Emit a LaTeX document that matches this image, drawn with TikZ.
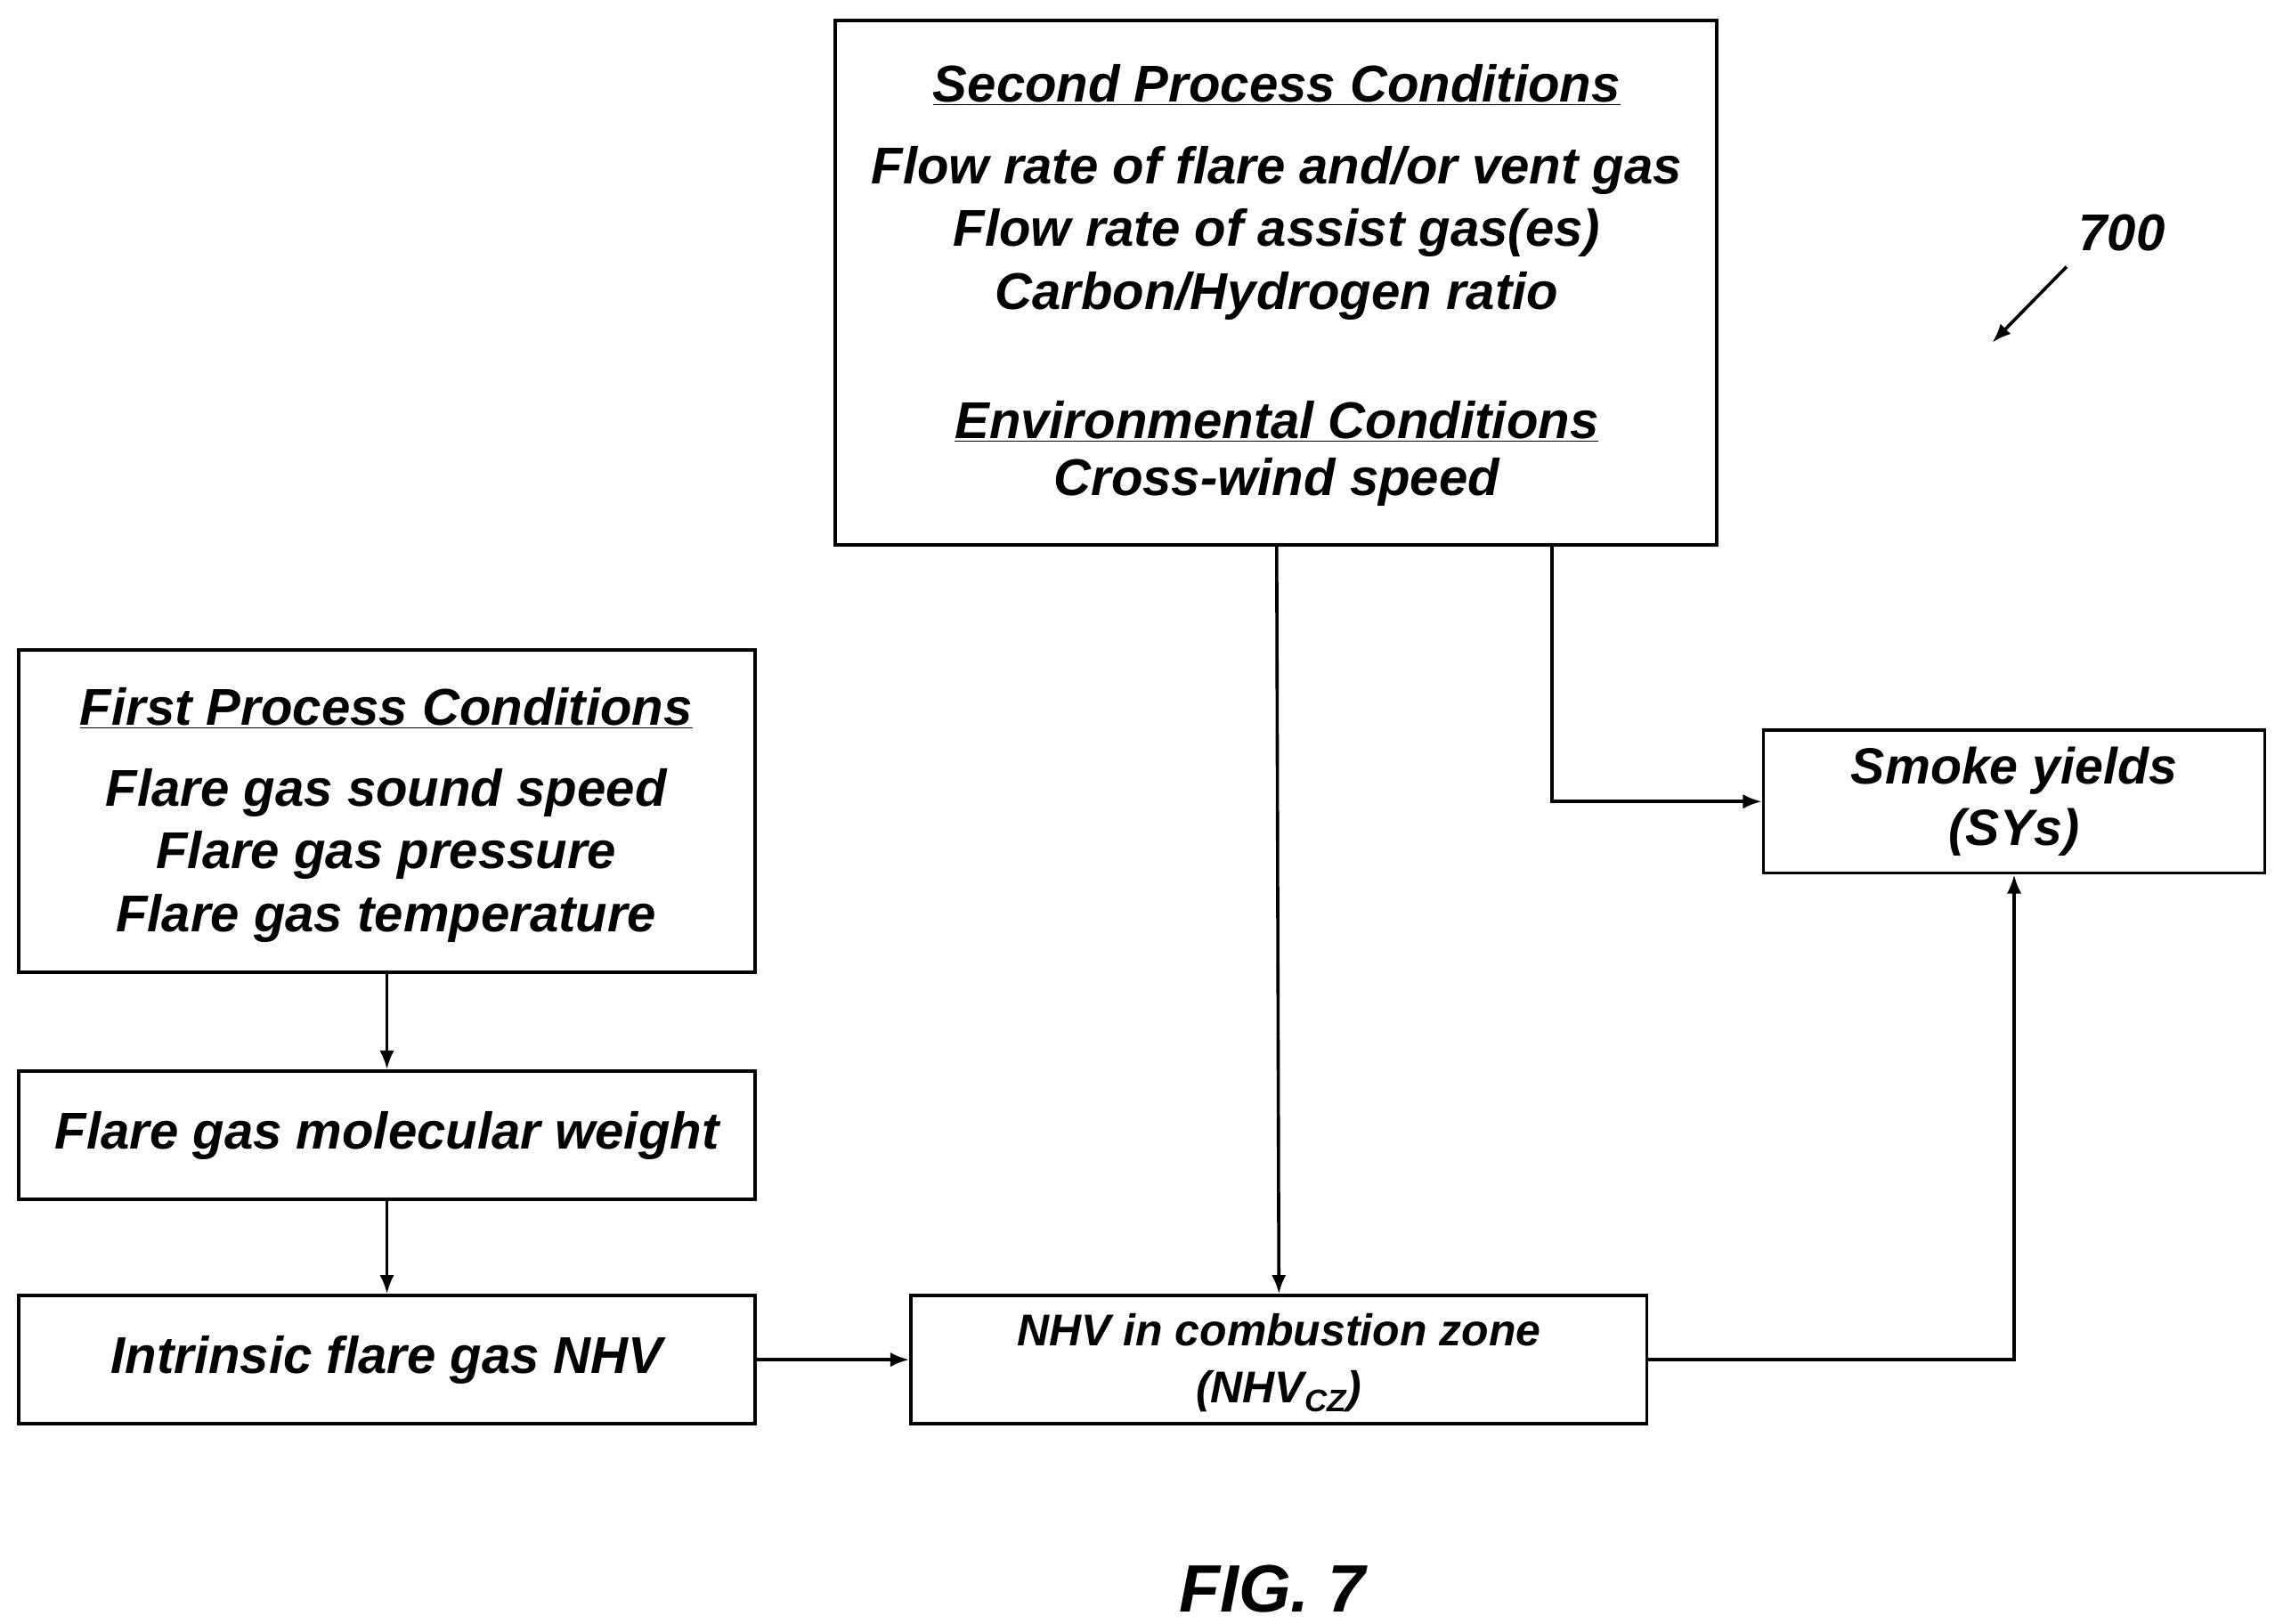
\documentclass[tikz,border=0pt]{standalone}
\usepackage{fontspec}
\setmainfont{Liberation Sans}
\usetikzlibrary{arrows.meta}
\begin{document}
\begin{tikzpicture}[x=1pt,y=-1pt,
 box/.style={draw,line width=2.2pt},
 txt/.style={font=\fontsize{35.5}{43}\selectfont\bfseries\itshape,align=center},
 arr/.style={line width=2.2pt,-{Latex[length=13pt,width=10pt]}}]
\useasboundingbox (0,0) rectangle (1561,1114);
\draw[box] (573,14) rectangle (1178,374);
\node[coordinate] (s) at (876,374) {};
\node[coordinate] (s2) at (1065,374) {};
\node[txt] (st1) at (876,58) {\underline{Second Process Conditions}};
\node[txt] (st2) at (876,160) {Flow rate of flare and/or vent gas\\Flow rate of assist gas(es)\\Carbon/Hydrogen ratio};
\node[txt] (st3) at (876,289) {\underline{Environmental Conditions}};
\node[txt] (st4) at (876,331) {Cross-wind speed};
\node[txt] (lab) at (1456,160) {700};
\coordinate (la) at (1418,183); \coordinate (lb) at (1367,235);
\draw[arr] (la) -- (lb);
\node[box,minimum width=505,minimum height=221,inner sep=0] (first) at (265.5,556.5) {};
\node[txt] (ft1) at (265,486) {\underline{First Process Conditions}};
\node[txt] (ft2) at (265,587) {Flare gas sound speed\\Flare gas pressure\\Flare gas temperature};
\node[box,txt,minimum width=505,minimum height=88,inner sep=0] (mw) at (265.5,779) {Flare gas molecular weight};
\node[box,txt,minimum width=505,minimum height=88,inner sep=0] (in) at (265.5,933) {Intrinsic flare gas NHV};
\node[box,minimum width=505,minimum height=88,inner sep=0] (nhv) at (877.5,933) {};
\node[txt,font=\fontsize{30.5}{39}\selectfont\bfseries\itshape] (nt) at (877.5,935) {NHV in combustion zone\\(NHV\textsubscript{CZ})};
\node[box,txt,minimum width=344,minimum height=98,inner sep=0,font=\fontsize{35}{42}\selectfont\bfseries\itshape] (sy) at (1382,550) {Smoke yields\\(SYs)};
\node[txt,font=\fontsize{46}{50}\selectfont\bfseries\itshape] (fig) at (873,1090) {FIG. 7};
\draw[arr] (first.south) -- (mw.north);
\draw[arr] (mw.south) -- (in.north);
\draw[arr] (in.east) -- (nhv.west);
\draw[arr] (s) -- (nhv.north);
\draw[arr] (s2) |- (sy.west);
\draw[arr] (nhv.east) -| (sy.south);
\end{tikzpicture}
\end{document}
